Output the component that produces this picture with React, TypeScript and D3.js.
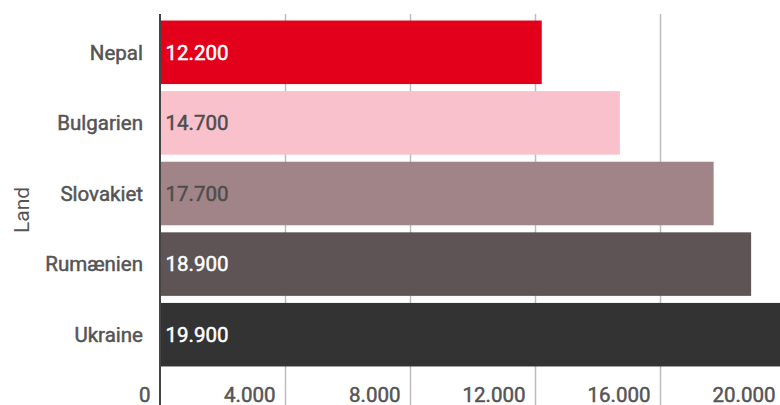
import React from "react";
import * as d3 from "d3";

const categories = ["Nepal", "Bulgarien", "Slovakiet", "Rumænien", "Ukraine"];
const values = [12200, 14700, 17700, 18900, 19900];
const colors = ["#e2001a", "#f9c1cb", "#a08488", "#5e5455", "#333333"];
const labelColors = ["#ffffff", "#4d4d4d", "#4d4d4d", "#ffffff", "#ffffff"];
const xTicks = [0, 4000, 8000, 12000, 16000, 20000];
const axisTitle = "Land";

const W = 780;
const H = 405;

const fmt = (v: number) => d3.format(",")(v).replace(/,/g, ".");

export default function App() {
  const x = d3.scaleLinear().domain([0, 20000]).range([160.5, 785.5]);
  const y = d3
    .scaleBand<string>()
    .domain(categories)
    .range([17, 370])
    .paddingInner(0.1)
    .paddingOuter(0.05);
  const font = "Roboto, sans-serif";
  const fs = 20.5;
  const sw = 0.5;
  return (
    <div style={{ position: "fixed", left: 0, top: 0 }}>
      <svg width={W} height={H} style={{ display: "block" }} fontFamily={font}>
        <rect x={0} y={0} width={W} height={H} fill="#fff" />
        {xTicks.slice(1).map((t) => (
          <line
            key={"g" + t}
            x1={x(t)}
            x2={x(t)}
            y1={14}
            y2={H}
            stroke="#bdbdbd"
            strokeWidth={1.5}
          />
        ))}
        {categories.map((c, i) => (
          <g key={c}>
            <rect
              x={x(0)}
              y={y(c)!}
              width={x(values[i]) - x(0)}
              height={y.bandwidth()}
              fill={colors[i]}
            />
            <text
              x={x(0) + 5}
              y={y(c)! + y.bandwidth() / 2}
              dy="0.36em"
              fontSize={fs}
              fontWeight={400}
              stroke={labelColors[i]}
              strokeWidth={sw}
              fill={labelColors[i]}
            >
              {fmt(values[i])}
            </text>
            <text
              x={143}
              y={y(c)! + y.bandwidth() / 2}
              dy="0.36em"
              textAnchor="end"
              fontSize={fs}
              fontWeight={400}
              stroke="#555"
              strokeWidth={sw}
              fill="#555"
            >
              {c}
            </text>
          </g>
        ))}
        <line x1={160} x2={160} y1={14} y2={H} stroke="#444" strokeWidth={2} />
        {xTicks.map((t) => (
          <text
            key={"t" + t}
            x={x(t) - 10}
            y={401.5}
            textAnchor="end"
            fontSize={fs}
            fontWeight={400}
            stroke="#555"
            strokeWidth={sw}
            fill="#555"
          >
            {fmt(t)}
          </text>
        ))}
        <text
          transform={`translate(28.5,210) rotate(-90)`}
          textAnchor="middle"
          fontSize={21}
          fill="#555"
        >
          {axisTitle}
        </text>
      </svg>
    </div>
  );
}
